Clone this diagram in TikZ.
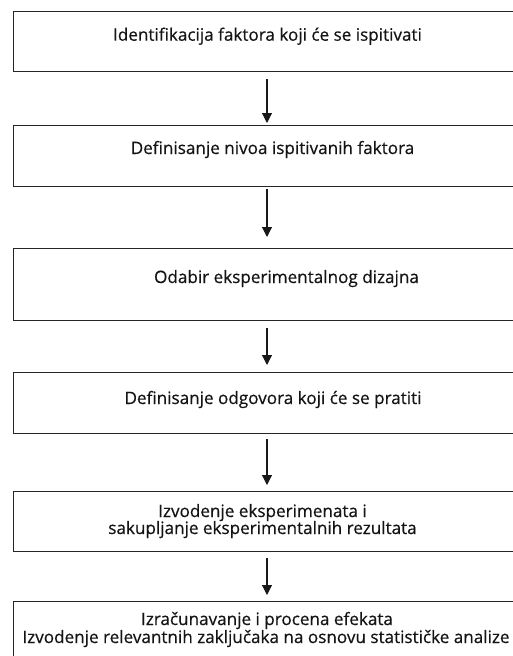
\documentclass[tikz,border=0pt]{standalone}
\usepackage{fontspec}
\setmainfont{Open Sans}[FakeBold=0.5]
\usetikzlibrary{arrows.meta}
\begin{document}
\begin{tikzpicture}[x=1pt,y=-1pt,
  box/.style={draw=black!85, line width=1.2pt, minimum width=507pt, inner sep=0pt, anchor=north},
  lbl/.style={font=\fontsize{17.1}{19}\selectfont, text=black!92, inner sep=0pt, anchor=base},
  arr/.style={-{Triangle[width=10pt,length=10pt]}, line width=1.1pt, draw=black!90}]
\useasboundingbox (0,0) rectangle (513,656);
\node[box, minimum height=60pt] (b1) at (267,11) {};
\node[box, minimum height=61pt] (b2) at (267,125) {};
\node[box, minimum height=72pt] (b3) at (267,248) {};
\node[box, minimum height=61pt] (b4) at (267,372) {};
\node[box, minimum height=60pt] (b5) at (267,491) {};
\node[box, minimum height=80pt] (b6) at (267,601) {};
\node[lbl] (t1) at (267.5,40.7) {Identifikacija faktora koji će se ispitivati};
\node[lbl] (t2) at (272.5,154) {Definisanje nivoa ispitivanih faktora};
\node[lbl] (t3) at (286.5,283) {Odabir eksperimentalnog dizajna};
\node[lbl] (t4) at (273,404) {Definisanje odgovora koji će se pratiti};
\node[lbl] (t5a) at (262.5,517) {Izvodenje eksperimenata i};
\node[lbl] (t5b) at (262.5,534) {sakupljanje eksperimentalnih rezultata};
\node[lbl] (t6a) at (267,625) {Izračunavanje i procena efekata};
\node[lbl] (t6b) at (266,643) {Izvodenje relevantnih zaključaka na osnovu statističke analize};
\draw[arr, shorten <=7pt, shorten >=2pt] (b1) -- (b2);
\draw[arr, shorten <=2pt, shorten >=11pt] (b2) -- (b3);
\draw[arr, shorten <=7pt, shorten >=7pt] (b3) -- (b4);
\draw[arr, shorten <=5pt, shorten >=6pt] (b4) -- (b5);
\draw[arr, shorten <=6pt, shorten >=6pt] (b5) -- (b6);
\end{tikzpicture}
\end{document}
